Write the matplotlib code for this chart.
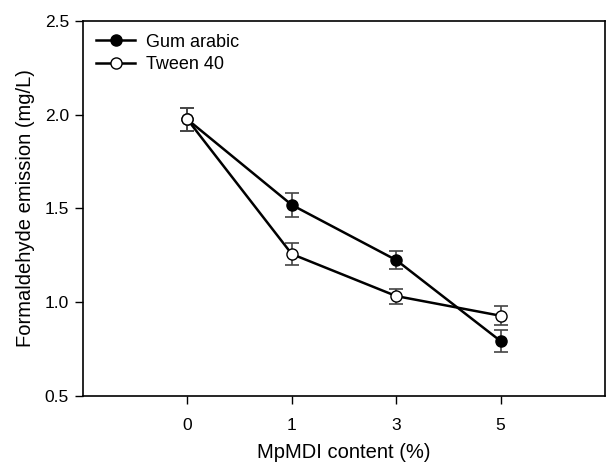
import numpy as np
import matplotlib.pyplot as plt

plt.rcParams['font.family'] = ['Liberation Sans', 'DejaVu Sans']

# MpMDI content categories (%)
categories = ['0', '1', '3', '5']

# Formaldehyde emission (mg/L)
gum_mean = [1.975, 1.519, 1.225, 0.793]
gum_err = [0.06, 0.064, 0.05, 0.06]
tween_mean = [1.975, 1.257, 1.033, 0.928]
tween_err = [0.06, 0.06, 0.04, 0.05]

yticks = [0.5, 1.0, 1.5, 2.0, 2.5]

fig = plt.figure(figsize=(6.06, 4.66), dpi=100)
ax = fig.add_axes([83 / 606, 1 - 396 / 466, 522 / 606, 375 / 466])

x = np.arange(len(categories))

ax.errorbar(x, gum_mean, yerr=gum_err, color='black', linewidth=1.8,
            marker='o', markersize=8, markerfacecolor='black',
            markeredgecolor='black', ecolor='#444444', elinewidth=1.2,
            capsize=5, capthick=1.2, label='Gum arabic', zorder=3)
ax.errorbar(x, tween_mean, yerr=tween_err, color='black', linewidth=1.8,
            marker='o', markersize=8, markerfacecolor='white',
            markeredgecolor='black', ecolor='#444444', elinewidth=1.2,
            capsize=5, capthick=1.2, label='Tween 40', zorder=4)

ax.set_xlim(-1, 4)
ax.set_ylim(0.5, 2.5)
ax.set_xticks(x)
ax.set_xticklabels(categories)
ax.set_yticks(yticks)
ax.set_yticklabels([f'{v:.1f}' for v in yticks])
ax.tick_params(direction='out', length=6, width=1, labelsize=12.5)
ax.tick_params(axis='x', pad=10)
ax.tick_params(axis='y', pad=4)
for s in ax.spines.values():
    s.set_linewidth(1.2)

ax.set_xlabel('MpMDI content (%)', fontsize=14.5, labelpad=7)
ax.set_ylabel('Formaldehyde emission (mg/L)', fontsize=14.5, labelpad=7)

# legend handles without error bars
h, l = ax.get_legend_handles_labels()
handles = [hh.lines[0] if hasattr(hh, 'lines') else hh for hh in h]
ax.legend(handles, l, loc='upper left', frameon=False, fontsize=13,
          handlelength=2.2, handletextpad=0.6, borderaxespad=0.3,
          labelspacing=0.3)

fig.savefig('out.png', dpi=100)
